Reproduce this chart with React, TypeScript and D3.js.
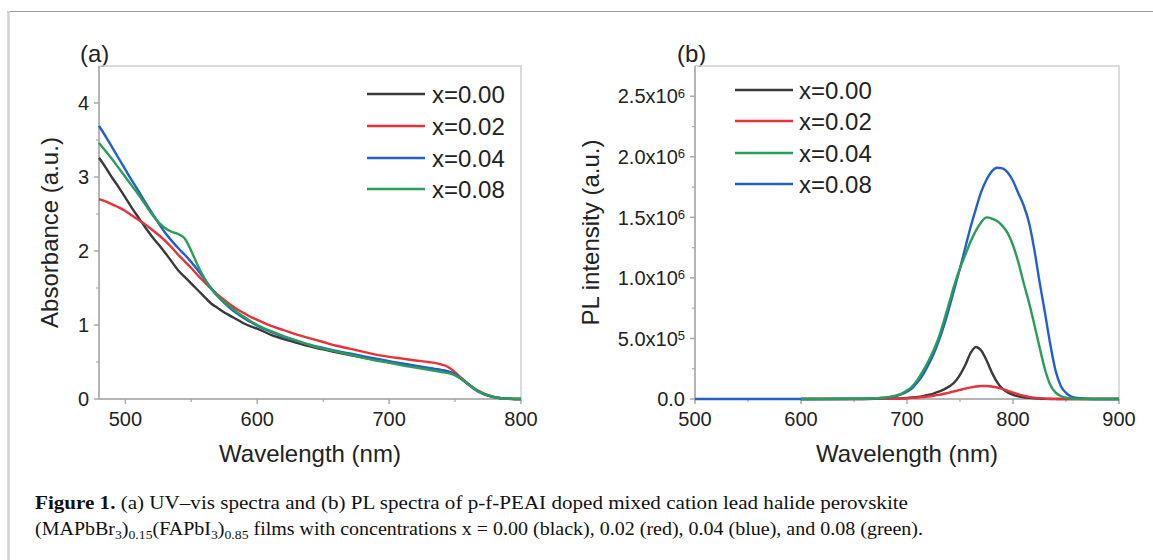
import React from "react";
import * as d3 from "d3";

// ---------- Panel (a): UV-vis absorbance ----------
const absWavelengths = [
  480, 485, 490, 495, 500, 505, 510, 515, 520, 525, 530, 535, 540, 545, 550, 555, 560, 565, 570, 575, 580, 585, 590, 595, 600,
  610, 620, 630, 640, 650, 660, 670, 680, 690, 700, 710, 720, 730, 740,
  745, 750, 755, 760, 765, 770, 775, 780, 785, 790, 795, 800,
];
const absX000 = [
  3.26, 3.13, 2.99, 2.86, 2.72, 2.58, 2.45, 2.32, 2.2, 2.09, 1.98, 1.86, 1.74, 1.65, 1.56, 1.47, 1.38, 1.29, 1.23, 1.17, 1.12, 1.07, 1.02, 0.98, 0.95,
  0.87, 0.81, 0.76, 0.71, 0.67, 0.63, 0.595, 0.56, 0.53, 0.5, 0.47, 0.44, 0.415, 0.39,
  0.37, 0.33, 0.27, 0.2, 0.135, 0.085, 0.05, 0.025, 0.01, 0.004, 0.001, 0,
];
const absX002 = [
  2.7, 2.67, 2.63, 2.59, 2.54, 2.48, 2.42, 2.36, 2.29, 2.22, 2.14, 2.05, 1.95, 1.86, 1.77, 1.67, 1.58, 1.49, 1.41, 1.34, 1.27, 1.21, 1.16, 1.11, 1.07,
  0.99, 0.93, 0.87, 0.82, 0.77, 0.72, 0.68, 0.64, 0.6, 0.57, 0.545, 0.52, 0.5, 0.465,
  0.43, 0.36, 0.28, 0.205, 0.14, 0.09, 0.052, 0.026, 0.011, 0.004, 0.001, 0,
];
const absX004 = [
  3.69, 3.55, 3.4, 3.25, 3.1, 2.95, 2.81, 2.66, 2.52, 2.38, 2.25, 2.14, 2.04, 1.95, 1.85, 1.74, 1.62, 1.5, 1.39, 1.3, 1.22, 1.15, 1.09, 1.04, 0.99,
  0.91, 0.84, 0.785, 0.73, 0.69, 0.65, 0.615, 0.58, 0.545, 0.51, 0.48, 0.45, 0.42, 0.39,
  0.37, 0.33, 0.27, 0.2, 0.13, 0.08, 0.045, 0.022, 0.009, 0.003, 0.001, 0,
];
const absX008 = [
  3.46, 3.35, 3.24, 3.12, 3.0, 2.88, 2.76, 2.63, 2.5, 2.39, 2.31, 2.26, 2.23, 2.17, 2.0, 1.8, 1.63, 1.49, 1.39, 1.31, 1.24, 1.17, 1.11, 1.05, 1.0,
  0.92, 0.85, 0.79, 0.73, 0.68, 0.64, 0.6, 0.56, 0.52, 0.49, 0.455, 0.425, 0.395, 0.365,
  0.35, 0.32, 0.27, 0.2, 0.135, 0.085, 0.05, 0.025, 0.01, 0.004, 0.001, 0,
];

const absXTicks = [500, 600, 700, 800];
const absXMinor = [550, 650, 750];
const absYTicks = [0, 1, 2, 3, 4];
const absYMinor = [0.5, 1.5, 2.5, 3.5];

const absLegend = ["x=0.00", "x=0.02", "x=0.04", "x=0.08"];
const absColors = ["#3a3a3a", "#e8323a", "#1f5fd0", "#2a9d58"];

// ---------- Panel (b): PL spectra (values in units of 10^6) ----------
const plWl = [
  500, 550, 600, 650, 670, 680, 685, 690, 695, 700, 705, 710, 715, 720, 725, 730, 735, 740, 745, 750, 755, 760, 765, 770, 775,
  780, 785, 790, 795, 800, 805, 810, 815, 820, 825, 830, 835, 840, 845, 850, 855, 860, 870, 880, 900,
];
const plX000 = [
  null, null, 0, 0, 0.001, 0.002, 0.003, 0.004, 0.006, 0.008, 0.012, 0.017, 0.024, 0.033, 0.045, 0.06, 0.08, 0.105, 0.14, 0.2, 0.28, 0.38, 0.43, 0.4, 0.32,
  0.22, 0.14, 0.085, 0.055, 0.035, 0.022, 0.014, 0.009, 0.005, 0.003, 0.001, 0, 0, 0, 0, 0, 0, 0, 0, 0,
];
const plX002 = [
  null, null, 0, 0, 0.001, 0.002, 0.003, 0.004, 0.005, 0.007, 0.009, 0.012, 0.016, 0.021, 0.027, 0.034, 0.043, 0.053, 0.064, 0.075, 0.086, 0.096, 0.103, 0.107, 0.107,
  0.103, 0.095, 0.083, 0.068, 0.053, 0.039, 0.027, 0.018, 0.011, 0.007, 0.004, 0.002, 0.001, 0, 0, 0, 0, 0, 0, 0,
];
const plX004 = [
  null, null, 0, 0.002, 0.006, 0.012, 0.02, 0.03, 0.045, 0.07, 0.105, 0.16, 0.23, 0.31, 0.4, 0.51, 0.65, 0.8, 0.95, 1.08, 1.19, 1.3, 1.39, 1.46, 1.5,
  1.49, 1.47, 1.43, 1.37, 1.27, 1.13, 0.96, 0.8, 0.62, 0.43, 0.25, 0.12, 0.055, 0.025, 0.01, 0.004, 0.001, 0, 0, 0,
];
const plX008 = [
  0, 0, 0, 0.002, 0.005, 0.01, 0.017, 0.025, 0.04, 0.06, 0.09, 0.14, 0.2, 0.28, 0.37, 0.48, 0.61, 0.76, 0.92, 1.08, 1.25, 1.42, 1.57, 1.71, 1.81,
  1.88, 1.91, 1.905, 1.87, 1.8, 1.7, 1.6, 1.46, 1.24, 0.97, 0.72, 0.46, 0.24, 0.11, 0.05, 0.02, 0.008, 0.002, 0, 0,
];

const plXTicks = [500, 600, 700, 800, 900];
const plXMinor = [550, 650, 750, 850];
const plYTicks = [0, 0.5e6, 1.0e6, 1.5e6, 2.0e6, 2.5e6];
const plYMinor = [0.25e6, 0.75e6, 1.25e6, 1.75e6, 2.25e6];

const plLegend = ["x=0.00", "x=0.02", "x=0.04", "x=0.08"];
const plColors = ["#3a3a3a", "#e8323a", "#2a9d58", "#1f5fd0"];

const W = 1153;
const H = 560;
const SANS = "'Liberation Sans', Arial, sans-serif";
const SERIF = "'Liberation Serif', 'Times New Roman', serif";
const AXIS = "#a8a8a8";

function supLabel(v: number) {
  if (v === 0) return { m: "0.0", e: null as null | number };
  const e = Math.floor(Math.log10(v));
  const m = v / Math.pow(10, e);
  return { m: m.toFixed(1) + "x10", e };
}

type PanelProps = {
  x: d3.ScaleLinear<number, number>;
  y: d3.ScaleLinear<number, number>;
  xTicks: number[];
  xMinor: number[];
  yTicks: number[];
  yMinor: number[];
  yFmt: (v: number) => React.ReactNode;
};

function Frame({ x, y, xTicks, xMinor, yTicks, yMinor, yFmt }: PanelProps) {
  const [x0, x1] = x.range();
  const [y0, y1] = y.range();
  return (
    <g>
      <rect x={x0} y={y1} width={x1 - x0} height={y0 - y1} fill="none" stroke="#cfcfcf" strokeWidth={1.5} />
      <line x1={x0} x2={x0} y1={y1} y2={y0} stroke={AXIS} strokeWidth={1.5} />
      <line x1={x0} x2={x1} y1={y0} y2={y0} stroke={AXIS} strokeWidth={1.5} />
      {xTicks.map((t) => (
        <g key={"xt" + t}>
          <line x1={x(t)} x2={x(t)} y1={y0} y2={y0 + 5} stroke={AXIS} strokeWidth={1.5} />
          <text x={x(t)} y={y0 + 27} textAnchor="middle" fontSize={20} fontFamily={SANS} fill="#222">{t}</text>
        </g>
      ))}
      {xMinor.map((t) => (
        <line key={"xm" + t} x1={x(t)} x2={x(t)} y1={y0} y2={y0 + 3} stroke={AXIS} strokeWidth={1.2} />
      ))}
      {yTicks.map((t) => (
        <g key={"yt" + t}>
          <line x1={x0 - 5} x2={x0} y1={y(t)} y2={y(t)} stroke={AXIS} strokeWidth={1.5} />
          <text x={x0 - 10} y={y(t)} dy="0.36em" textAnchor="end" fontSize={20} fontFamily={SANS} fill="#222">{yFmt(t)}</text>
        </g>
      ))}
      {yMinor.map((t) => (
        <line key={"ym" + t} x1={x0 - 3} x2={x0} y1={y(t)} y2={y(t)} stroke={AXIS} strokeWidth={1.2} />
      ))}
    </g>
  );
}

export default function App() {
  // Panel (a) scales
  const ax = d3.scaleLinear().domain([480, 800]).range([99, 521]);
  const ay = d3.scaleLinear().domain([0, 4.5]).range([399, 66]);
  // Panel (b) scales
  const bx = d3.scaleLinear().domain([500, 900]).range([695, 1119]);
  const by = d3.scaleLinear().domain([0, 2.75e6]).range([399, 66]);

  const absSeries = [absX000, absX002, absX004, absX008];
  const lineA = d3
    .line<[number, number]>()
    .x((d) => ax(d[0]))
    .y((d) => ay(d[1]))
    .curve(d3.curveMonotoneX);

  // draw order: black, red, blue (x=0.08), green (x=0.04)
  const plSeries: { vals: (number | null)[]; color: string }[] = [
    { vals: plX000, color: plColors[0] },
    { vals: plX002, color: plColors[1] },
    { vals: plX008, color: plColors[3] },
    { vals: plX004, color: plColors[2] },
  ];
  const lineB = d3
    .line<[number, number | null]>()
    .defined((d) => d[1] !== null)
    .x((d) => bx(d[0]))
    .y((d) => by((d[1] as number) * 1e6))
    .curve(d3.curveMonotoneX);

  const legendRowsA = [94, 126, 158, 189];
  const legendRowsB = [90, 121, 153, 184];

  return (
    <svg width={W} height={H} style={{ position: "absolute", left: 0, top: 0, background: "#fff" }}>
      <rect x={0} y={0} width={W} height={H} fill="#fff" />
      {/* outer figure frame */}
      <line x1={7} x2={W} y1={11.5} y2={11.5} stroke="#9a9a9a" strokeWidth={1.2} />
      <line x1={8.5} x2={8.5} y1={11} y2={H} stroke="#d2d2d2" strokeWidth={2.6} />

      {/* Panel (a) */}
      <text x={80} y={62} fontSize={24} fontFamily={SANS} fill="#222">(a)</text>
      <Frame x={ax} y={ay} xTicks={absXTicks} xMinor={absXMinor} yTicks={absYTicks} yMinor={absYMinor} yFmt={(v) => String(v)} />
      {absSeries.map((s, i) => (
        <path
          key={"a" + i}
          d={lineA(absWavelengths.map((w, j) => [w, s[j]] as [number, number])) || ""}
          fill="none"
          stroke={absColors[i]}
          strokeWidth={2.4}
          strokeLinejoin="round"
        />
      ))}
      {absLegend.map((l, i) => (
        <g key={"la" + i}>
          <line x1={367} x2={425} y1={legendRowsA[i]} y2={legendRowsA[i]} stroke={absColors[i]} strokeWidth={2.6} />
          <text x={432} y={legendRowsA[i]} dy="0.36em" fontSize={24} fontFamily={SANS} fill="#222">{l}</text>
        </g>
      ))}
      <text
        transform={`translate(49, ${(66 + 399) / 2}) rotate(-90)`}
        textAnchor="middle"
        dy="0.36em"
        fontSize={24}
        fontFamily={SANS}
        fill="#222"
      >
        Absorbance (a.u.)
      </text>
      <text x={310} y={462} textAnchor="middle" fontSize={24} fontFamily={SANS} fill="#222">Wavelength (nm)</text>

      {/* Panel (b) */}
      <text x={677} y={62} fontSize={24} fontFamily={SANS} fill="#222">(b)</text>
      <Frame
        x={bx}
        y={by}
        xTicks={plXTicks}
        xMinor={plXMinor}
        yTicks={plYTicks}
        yMinor={plYMinor}
        yFmt={(v) => {
          const s = supLabel(v);
          return (
            <>
              {s.m}
              {s.e !== null && (
                <tspan dy="-0.45em" fontSize={13}>{s.e}</tspan>
              )}
            </>
          );
        }}
      />
      {plSeries.map((s, i) => (
        <path
          key={"b" + i}
          d={lineB(plWl.map((w, j) => [w, s.vals[j]] as [number, number | null])) || ""}
          fill="none"
          stroke={s.color}
          strokeWidth={2.4}
          strokeLinejoin="round"
        />
      ))}
      {plLegend.map((l, i) => (
        <g key={"lb" + i}>
          <line x1={735} x2={793} y1={legendRowsB[i]} y2={legendRowsB[i]} stroke={plColors[i]} strokeWidth={2.6} />
          <text x={799} y={legendRowsB[i]} dy="0.36em" fontSize={24} fontFamily={SANS} fill="#222">{l}</text>
        </g>
      ))}
      <text
        transform={`translate(590, ${(66 + 399) / 2}) rotate(-90)`}
        textAnchor="middle"
        dy="0.36em"
        fontSize={24}
        fontFamily={SANS}
        fill="#222"
      >
        PL intensity (a.u.)
      </text>
      <text x={907} y={462} textAnchor="middle" fontSize={24} fontFamily={SANS} fill="#222">Wavelength (nm)</text>

      {/* Caption */}
      <text x={35} y={509} fontSize={19} fontFamily={SERIF} fill="#111" textLength={873} lengthAdjust="spacingAndGlyphs">
        <tspan fontWeight="bold">Figure 1.</tspan> (a) UV–vis spectra and (b) PL spectra of p-f-PEAI doped mixed cation lead halide perovskite
      </text>
      <text x={35} y={535} fontSize={19} fontFamily={SERIF} fill="#111" textLength={888} lengthAdjust="spacingAndGlyphs">
        (MAPbBr<tspan fontSize={13} dy="4">3</tspan><tspan dy="-4">)</tspan><tspan fontSize={13} dy="4">0.15</tspan>
        <tspan dy="-4">(FAPbI</tspan><tspan fontSize={13} dy="4">3</tspan><tspan dy="-4">)</tspan><tspan fontSize={13} dy="4">0.85</tspan>
        <tspan dy="-4"> films with concentrations x = 0.00 (black), 0.02 (red), 0.04 (blue), and 0.08 (green).</tspan>
      </text>
    </svg>
  );
}
